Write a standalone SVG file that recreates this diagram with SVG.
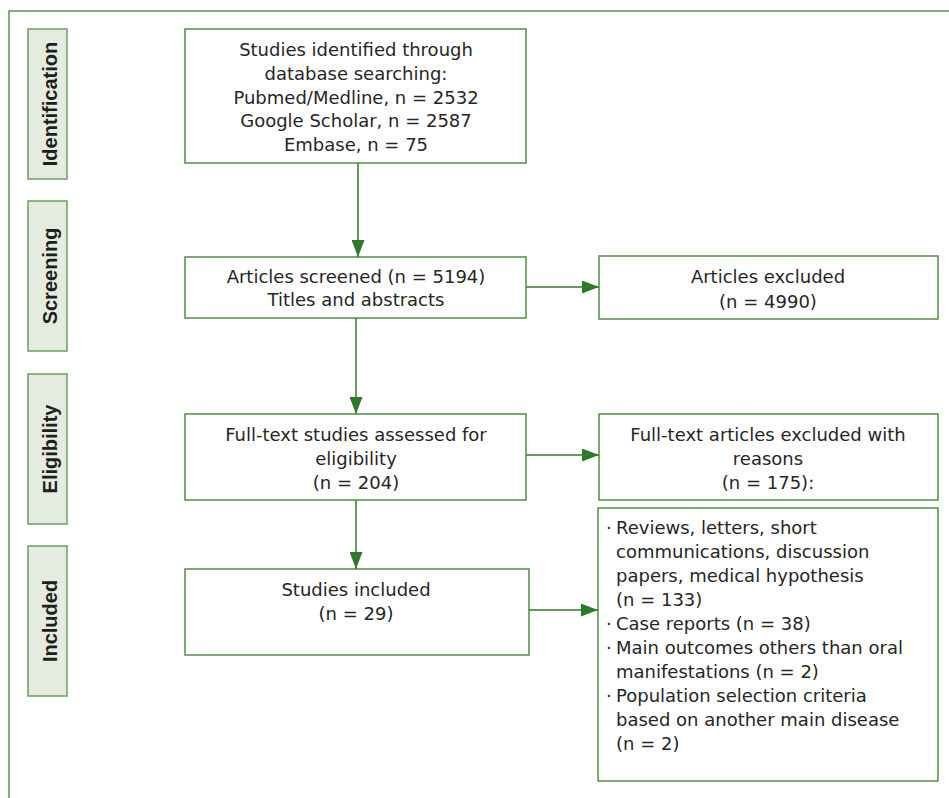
<svg xmlns="http://www.w3.org/2000/svg" width="949" height="798" viewBox="0 0 949 798">
<defs>
<style>
.frame{fill:none;stroke:#5a9650;stroke-width:1.5}
.lab rect{fill:#e4ece0;stroke:#6aa05e;stroke-width:1.5}
.lab text{font-family:"Liberation Sans",Arial,sans-serif;font-weight:bold;font-size:20px;fill:#1e1e1e;text-anchor:middle}
.box rect{fill:#fff;stroke:#4f8f42;stroke-width:1.5}
.box text{font-family:"DejaVu Sans",sans-serif;font-size:18px;fill:#262626;text-anchor:middle}
.box text.l{text-anchor:start}
.conn line{stroke:#2f7a2a;stroke-width:1.5;marker-end:url(#ah)}
</style>
<marker id="ah" markerUnits="userSpaceOnUse" markerWidth="17" markerHeight="13" refX="17" refY="6.5" orient="auto">
<path d="M0,0 L17,6.5 L0,13 z" fill="#2f7a2a"/>
</marker>
</defs>
<rect width="949" height="798" fill="#fff"/>
<path class="frame" d="M9,798 L9,11 L949,11"/>

<g id="lab-identification" class="lab">
<rect x="28" y="29" width="39" height="150"/>
<text transform="translate(57,104) rotate(-90)">Identification</text>
</g>
<g id="lab-screening" class="lab">
<rect x="28" y="201" width="39" height="150"/>
<text transform="translate(57,276) rotate(-90)">Screening</text>
</g>
<g id="lab-eligibility" class="lab">
<rect x="28" y="374" width="39" height="150"/>
<text transform="translate(57,449) rotate(-90)">Eligibility</text>
</g>
<g id="lab-included" class="lab">
<rect x="28" y="546" width="39" height="150"/>
<text transform="translate(57,621) rotate(-90)">Included</text>
</g>

<g id="identified" class="box">
<rect x="185" y="29" width="341" height="134"/>
<text x="356" y="56">Studies identified through</text>
<text x="356" y="80">database searching:</text>
<text x="356" y="104">Pubmed/Medline, n = 2532</text>
<text x="356" y="127">Google Scholar, n = 2587</text>
<text x="356" y="151">Embase, n = 75</text>
</g>
<g id="screened" class="box">
<rect x="185" y="257" width="341" height="61"/>
<text x="356" y="283">Articles screened (n = 5194)</text>
<text x="356" y="306">Titles and abstracts</text>
</g>
<g id="excluded" class="box">
<rect x="599" y="256" width="339" height="63"/>
<text x="768" y="283">Articles excluded</text>
<text x="768" y="308">(n = 4990)</text>
</g>
<g id="fulltext" class="box">
<rect x="185" y="414" width="341" height="86"/>
<text x="356" y="441">Full-text studies assessed for</text>
<text x="356" y="465">eligibility</text>
<text x="356" y="489">(n = 204)</text>
</g>
<g id="fulltext-excluded" class="box">
<rect x="599" y="414" width="339" height="86"/>
<text x="768" y="441">Full-text articles excluded with</text>
<text x="768" y="465">reasons</text>
<text x="768" y="489">(n = 175):</text>
</g>
<g id="included" class="box">
<rect x="185" y="569" width="344" height="86"/>
<text x="356" y="596">Studies included</text>
<text x="356" y="620">(n = 29)</text>
</g>
<g id="reasons" class="box">
<rect x="598" y="508" width="340" height="273"/>
<text class="l" x="606" y="534">·</text>
<text class="l" x="616" y="534">Reviews, letters, short</text>
<text class="l" x="616" y="558">communications, discussion</text>
<text class="l" x="616" y="582">papers, medical hypothesis</text>
<text class="l" x="616" y="606">(n = 133)</text>
<text class="l" x="606" y="630">·</text>
<text class="l" x="616" y="630">Case reports (n = 38)</text>
<text class="l" x="606" y="654">·</text>
<text class="l" x="616" y="654">Main outcomes others than oral</text>
<text class="l" x="616" y="678">manifestations (n = 2)</text>
<text class="l" x="606" y="702">·</text>
<text class="l" x="616" y="702">Population selection criteria</text>
<text class="l" x="616" y="726">based on another main disease</text>
<text class="l" x="616" y="750">(n = 2)</text>
</g>

<g id="connectors" class="conn">
<line x1="358" y1="163" x2="358" y2="257"/>
<line x1="526" y1="287" x2="599" y2="287"/>
<line x1="356" y1="318" x2="356" y2="414"/>
<line x1="526" y1="455" x2="599" y2="455"/>
<line x1="356" y1="500" x2="356" y2="569"/>
<line x1="529" y1="610" x2="598" y2="610"/>
</g>
</svg>
